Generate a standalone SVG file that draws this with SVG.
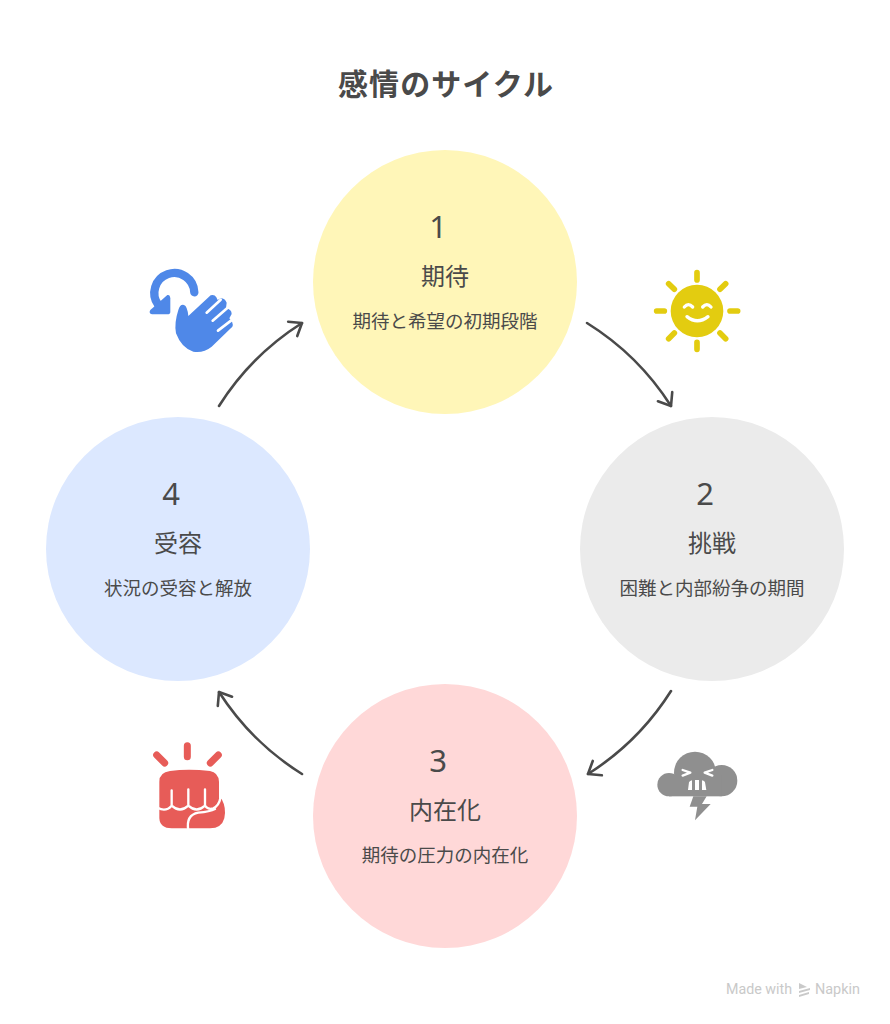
<svg xmlns="http://www.w3.org/2000/svg" width="890" height="1024" viewBox="0 0 890 1024">
<style>
text{font-family:"Noto Sans CJK JP","Noto Sans",sans-serif;fill:#4a4a4a;text-anchor:middle}
.title{font-size:30px;font-weight:700}
.num{font-family:"Noto Sans","DejaVu Sans",sans-serif;font-size:31px;font-weight:400}
.label{font-size:24px}
.desc{font-size:18.5px}
.conn{fill:none;stroke:#4a4a4a;stroke-width:2.6;stroke-linecap:round;marker-end:url(#arrow)}
.brand{font-family:Roboto,Inter,sans-serif;font-size:14.5px;fill:#c9c9c9;text-anchor:start}
</style>
<defs>
<marker id="arrow" markerUnits="userSpaceOnUse" markerWidth="22" markerHeight="22" refX="14" refY="10" orient="auto">
<path d="M3 1.5L14 10L3 18.500" fill="none" stroke="#4a4a4a" stroke-width="2.6" stroke-linecap="round" stroke-linejoin="round"/>
</marker>
</defs>
<rect width="890" height="1024" fill="#fff"/>
<text class="title" x="445.500" y="95" textLength="215" lengthAdjust="spacing">感情のサイクル</text>
<g id="connectors">
<path class="conn" d="M587 323A267 267 0 0 1 671 406"/>
<path class="conn" d="M671 691A267 267 0 0 1 588 774"/>
<path class="conn" d="M302 774A267 267 0 0 1 219 692"/>
<path class="conn" d="M219 406A267 267 0 0 1 302 323"/>
</g>
<g id="node-1">
<circle cx="445" cy="282" r="132" fill="#fff6b8"/>
<text class="num" x="438" y="238">1</text>
<text class="label" x="445" y="285">期待</text>
<text class="desc" x="445" y="328">期待と希望の初期段階</text>
</g>
<g id="node-2">
<circle cx="712" cy="549" r="132" fill="#ebebeb"/>
<text class="num" x="705" y="505">2</text>
<text class="label" x="712" y="552">挑戦</text>
<text class="desc" x="712" y="595">困難と内部紛争の期間</text>
</g>
<g id="node-3">
<circle cx="445" cy="816" r="132" fill="#ffd8d8"/>
<text class="num" x="438" y="772">3</text>
<text class="label" x="445" y="819">内在化</text>
<text class="desc" x="445" y="862">期待の圧力の内在化</text>
</g>
<g id="node-4">
<circle cx="178" cy="549" r="132" fill="#dce8ff"/>
<text class="num" x="171" y="505">4</text>
<text class="label" x="178" y="552">受容</text>
<text class="desc" x="178" y="595">状況の受容と解放</text>
</g>
<g id="icon-hand" fill="#4f88e8">
<g transform="translate(130 250) scale(.3333)">
<path d="M193 127A60 60 0 1 0 85 165" fill="none" stroke="#4f88e8" stroke-width="25" stroke-linecap="round"/>
<path d="M112 135Q120 133 121 145V185Q121 193 112 193H66Q55 190 61 180Z"/>
</g>
<g transform="translate(170 290) scale(.3333)">
<path d="M55 78L122 16Q133 12 139 22L143 30L152 25Q165 25 170 38L168 55Q185 58 185 72L178 85Q192 98 187 110L125 170Q100 190 70 185Q35 175 18 130Q12 100 25 60Q30 42 42 45Q52 48 55 78Z"/>
<path d="M110 68L152 29M128 92L172 54M144 122L188 88" stroke="#fff" stroke-width="8" stroke-linecap="round" fill="none"/>
</g>
</g>
<g id="icon-sun" transform="translate(640 255) scale(.3333)">
<circle cx="171" cy="168" r="79" fill="#e3cc10"/>
<path d="M171 53V75M171 262V283M50 168H73M270 168H293M86 86L103 103M257 86L240 103M86 251L103 234M257 251L240 234" stroke="#e3cc10" stroke-width="17" stroke-linecap="round" fill="none"/>
<path d="M133 156Q145 142 158 156M188 156Q201 142 213 156M141 185Q172 210 204 185" stroke="#fff" stroke-width="10" stroke-linecap="round" fill="none"/>
</g>
<g id="icon-cloud" transform="translate(640 735) scale(.3333)" fill="#8f8f8f">
<circle cx="87" cy="149" r="35"/><circle cx="165" cy="113" r="63"/><circle cx="245" cy="137" r="47"/>
<rect x="87" y="120" width="158" height="64"/>
<path d="M160 184L149 215H172L165 256L212 207H186L200 184Z"/>
<path d="M128 105L151 113L128 122M217 105L194 113L217 122" fill="none" stroke="#fff" stroke-width="7" stroke-linecap="round" stroke-linejoin="round"/>
<path d="M144 165L147 142Q149 137 156 136V165ZM165 135H177V165H165ZM186 136Q194 137 195 142L199 165H186Z" fill="#fff"/>
</g>
<g id="icon-fist" fill="#e75c58">
<path transform="translate(140 730) scale(.3333)" d="M142 47V80M50 75L74 99M235 75L211 99" fill="none" stroke="#e75c58" stroke-width="21" stroke-linecap="round"/>
<g transform="translate(155 765) scale(.3333)">
<path d="M45 18Q100 10 165 18Q190 22 192 50V100L200 102Q215 130 208 160Q200 190 165 190H50Q15 190 13 160V50Q13 22 45 18Z"/>
<path d="M50 76V120M100 73V120M150 73V120M8 128Q32 142 50 122Q75 145 100 122Q125 145 150 122Q160 136 175 130Q192 122 196 100M100 196Q92 150 130 143Q165 140 180 132" fill="none" stroke="#fff" stroke-width="7" stroke-linecap="round" stroke-linejoin="round"/>
</g>
</g>
<g id="watermark">
<text class="brand" x="726" y="994" textLength="66" lengthAdjust="spacingAndGlyphs">Made with</text>
<path d="M799 983L807 987L799 989ZM799 991L810 988V990L799 993ZM799 995L809 992V994L799 997Z" fill="#c9c9c9"/>
<text class="brand" x="815" y="994" textLength="45" lengthAdjust="spacingAndGlyphs">Napkin</text>
</g>
</svg>
